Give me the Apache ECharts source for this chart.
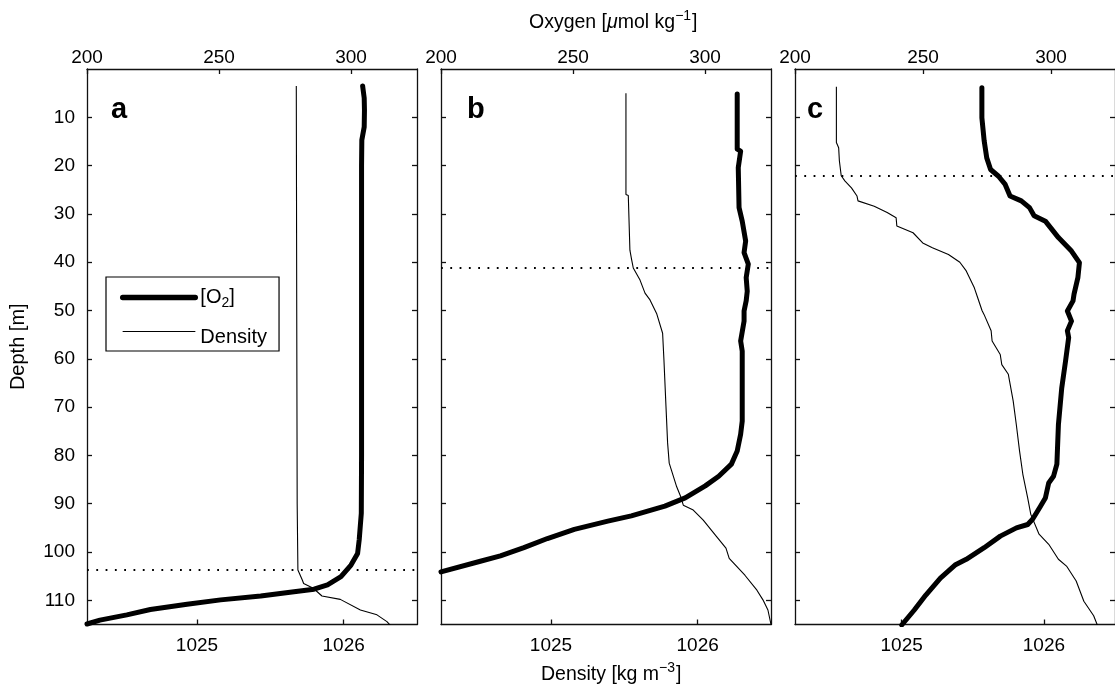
<!DOCTYPE html>
<html><head><meta charset="utf-8">
<script src="https://cdn.jsdelivr.net/npm/echarts@6/dist/echarts.min.js"></script>
<style>html,body{margin:0;padding:0;background:#fff}#c{width:1115px;height:684px}</style>
</head><body><div id="c"></div>
<script>
// ---- tick labels ----
const depthTicks = [10, 20, 30, 40, 50, 60, 70, 80, 90, 100, 110];
const oxygenTicks = [200, 250, 300];
const densityTicks = [1025, 1026];
const panelLetters = ['a', 'b', 'c'];
const mixedLayerDepth = [103.7, 41.2, 22.2];

// ---- panel a ----
const o2DepthA = [3.5, 6, 8.5, 12, 14.7, 20, 40, 60, 80, 92, 97.5, 100.3, 102.7, 105.1, 106.8, 107.7, 108.2, 109.1, 109.9, 110.8, 111.9, 113.0, 114.1, 114.9];
const o2A = [304.4, 305.0, 305.1, 305.0, 304.1, 304.0, 304.0, 304.0, 304.0, 303.9, 303.1, 302.5, 300.0, 296.2, 291.1, 286.0, 278.4, 265.8, 250.6, 237.9, 224.0, 215.1, 204.9, 200.0];
const rhoDepthA = [3.5, 50, 90, 103.7, 105.8, 106.5, 107.5, 109.1, 109.8, 112.0, 113.0, 114.4, 115.3];
const rhoA = [1025.677, 1025.680, 1025.683, 1025.688, 1025.718, 1025.727, 1025.793, 1025.852, 1025.977, 1026.114, 1026.227, 1026.295, 1026.322];

// ---- panel b ----
const o2DepthB = [5.2, 16.6, 17.0, 20.4, 28.7, 31.5, 35.6, 38.0, 40.4, 43.2, 46.0, 48.0, 50.1, 52.2, 56.3, 58.4, 72.9, 75.6, 79.1, 81.8, 84.3, 86.3, 88.8, 90.5, 91.9, 92.5, 93.6, 95.3, 97.2, 99.1, 100.8, 101.9, 104.1];
const o2B = [312.2, 312.2, 313.5, 312.6, 312.9, 314.1, 315.4, 314.8, 316.4, 315.6, 316.0, 315.6, 314.8, 314.8, 313.5, 314.1, 314.1, 313.5, 312.2, 310.0, 305.2, 300.1, 292.5, 284.8, 276.0, 272.1, 263.2, 250.5, 240.3, 231.4, 222.5, 214.9, 200.0];
const rhoDepthB = [5.0, 26.0, 26.2, 37.5, 39.5, 41.2, 43.7, 46.4, 47.8, 50.6, 54.7, 60.2, 69.9, 77.4, 81.6, 86.5, 88.5, 90.3, 91.3, 93.4, 96.8, 99.2, 101.3, 104.8, 107.9, 109.9, 112.0, 115.0];
const rhoB = [1025.511, 1025.511, 1025.527, 1025.538, 1025.550, 1025.561, 1025.607, 1025.641, 1025.675, 1025.720, 1025.761, 1025.770, 1025.784, 1025.795, 1025.806, 1025.857, 1025.884, 1025.902, 1025.970, 1026.038, 1026.129, 1026.193, 1026.215, 1026.322, 1026.404, 1026.445, 1026.479, 1026.500];

// ---- panel c ----
const o2DepthC = [3.9, 10.1, 14.9, 18.4, 20.8, 22.2, 23.9, 26.3, 27.3, 28.7, 30.4, 31.5, 34.9, 37.7, 40.1, 43.2, 46.6, 48.0, 50.1, 52.2, 54.2, 55.6, 60.4, 66.0, 73.6, 81.8, 84.3, 85.7, 88.8, 90.5, 93.2, 94.3, 95.0, 96.7, 99.1, 101.5, 102.7, 105.4, 108.9, 112.0, 115.1];
const o2C = [273.0, 273.0, 273.9, 274.9, 276.4, 279.5, 282.1, 284.0, 288.4, 291.6, 293.4, 297.8, 302.9, 308.0, 311.1, 310.5, 309.0, 308.6, 306.4, 308.0, 306.4, 306.9, 305.7, 304.2, 302.9, 302.3, 301.0, 299.1, 297.8, 295.9, 292.8, 290.9, 286.5, 280.2, 273.9, 266.9, 262.5, 256.8, 251.1, 246.6, 241.7];
const rhoDepthC = [3.7, 15.2, 16.3, 19.0, 22.1, 23.2, 24.6, 26.3, 27.3, 28.4, 29.7, 30.8, 32.5, 33.9, 36.0, 37.0, 38.4, 40.0, 41.8, 43.2, 45.3, 47.3, 50.0, 50.8, 54.2, 56.3, 59.1, 61.2, 63.2, 68.7, 73.6, 79.1, 83.9, 88.8, 92.2, 96.3, 98.4, 101.5, 102.9, 106.0, 110.2, 113.2, 115.2];
const rhoC = [1024.541, 1024.541, 1024.557, 1024.562, 1024.575, 1024.602, 1024.647, 1024.686, 1024.693, 1024.807, 1024.898, 1024.961, 1024.966, 1025.080, 1025.148, 1025.216, 1025.329, 1025.409, 1025.454, 1025.477, 1025.511, 1025.534, 1025.565, 1025.579, 1025.629, 1025.636, 1025.693, 1025.704, 1025.750, 1025.784, 1025.806, 1025.829, 1025.852, 1025.886, 1025.908, 1025.966, 1026.034, 1026.102, 1026.159, 1026.227, 1026.281, 1026.350, 1026.377];

const panelsData = [
  { o2: o2A, o2Depth: o2DepthA, rho: rhoA, rhoDepth: rhoDepthA },
  { o2: o2B, o2Depth: o2DepthB, rho: rhoB, rhoDepth: rhoDepthB },
  { o2: o2C, o2Depth: o2DepthC, rho: rhoC, rhoDepth: rhoDepthC }
];

const FONT = '"Liberation Sans", Arial, Helvetica, sans-serif';
const AX = '#111';
const TICK_FS = 19;
const gridLefts = [87, 441, 795];
const zip = (xs, ys) => xs.map((x, i) => [x, ys[i]]);

const grids = [], xAxes = [], yAxes = [], series = [];
gridLefts.forEach((l, i) => {
  grids.push({ left: l, top: 69, width: 330, height: 555.5, containLabel: false });
  const lineCfg = { show: true, onZero: false, lineStyle: { color: AX, width: 1.3 } };
  const tickStyle = { color: AX, width: 1.3 };
  // oxygen (top)
  xAxes.push({
    type: 'value', gridIndex: i, position: 'top', min: 200, max: 325,
    axisLine: lineCfg,
    axisTick: { show: true, inside: true, length: 5, customValues: oxygenTicks, lineStyle: tickStyle },
    axisLabel: { customValues: oxygenTicks, fontSize: TICK_FS, color: '#000', fontFamily: FONT, margin: 2 },
    splitLine: { show: false }
  });
  // density (bottom)
  xAxes.push({
    type: 'value', gridIndex: i, position: 'bottom', min: 1024.25, max: 1026.5,
    axisLine: lineCfg,
    axisTick: { show: true, inside: true, length: 5, customValues: densityTicks, lineStyle: tickStyle },
    axisLabel: { customValues: densityTicks, fontSize: TICK_FS, color: '#000', fontFamily: FONT, margin: 12, formatter: v => String(v) },
    splitLine: { show: false }
  });
  // depth left
  yAxes.push({
    type: 'value', gridIndex: i, position: 'left', inverse: true, min: 0, max: 115,
    name: i === 0 ? 'Depth [m]' : '', nameLocation: 'middle', nameGap: 59, nameRotate: 90,
    nameTextStyle: { fontSize: 20, color: '#000', fontFamily: FONT },
    axisLine: lineCfg,
    axisTick: { show: true, inside: true, length: 5, customValues: depthTicks, lineStyle: tickStyle },
    axisLabel: { show: i === 0, customValues: depthTicks, fontSize: TICK_FS, color: '#000', fontFamily: FONT, margin: 12 },
    splitLine: { show: false }
  });
  // depth right (ticks only)
  yAxes.push({
    type: 'value', gridIndex: i, position: 'right', inverse: true, min: 0, max: 115,
    axisLine: lineCfg,
    axisTick: { show: true, inside: true, length: 5, customValues: depthTicks, lineStyle: tickStyle },
    axisLabel: { show: false },
    splitLine: { show: false }
  });
  const p = panelsData[i];
  series.push({
    name: 'O2', type: 'line', xAxisIndex: 2 * i, yAxisIndex: 2 * i,
    data: zip(p.o2, p.o2Depth), symbol: 'none', z: 4,
    lineStyle: { color: '#000', width: 5, join: 'round', cap: 'round' }, itemStyle: { color: '#000' }
  });
  series.push({
    name: 'Density', type: 'line', xAxisIndex: 2 * i + 1, yAxisIndex: 2 * i,
    data: zip(p.rho, p.rhoDepth), symbol: 'none', z: 3,
    lineStyle: { color: '#000', width: 1.1 }, itemStyle: { color: '#000' },
    markLine: {
      silent: true, symbol: ['none', 'none'], animation: false,
      label: { show: false },
      lineStyle: { color: '#000', width: 1.8, type: [1.8, 7.5] },
      emphasis: { disabled: true },
      data: [{ yAxis: mixedLayerDepth[i] }]
    }
  });
});

const letterPos = [[111, 95], [467, 95], [807, 95]];
const titles = panelLetters.map((t, i) => ({ text: t, left: letterPos[i][0], top: letterPos[i][1], padding: 0,
  textStyle: { fontSize: 29, fontWeight: 'bold', color: '#000', fontFamily: FONT } }));

const richTitle = {
  n: { fontSize: 19.5, fontWeight: 'normal', color: '#000', fontFamily: FONT, lineHeight: 22, verticalAlign: 'top', padding: [5, 0, 0, 0] },
  i: { fontSize: 19.5, fontWeight: 'normal', color: '#000', fontFamily: FONT, fontStyle: 'italic', lineHeight: 22, verticalAlign: 'top', padding: [5, 0, 0, 0] },
  s: { fontSize: 14, fontWeight: 'normal', color: '#000', fontFamily: FONT, lineHeight: 14, verticalAlign: 'top', padding: [1, 1, 0, 0] }
};
titles.push({
  text: '{n|Oxygen [}{i|μ}{n|mol kg}{s|−1}{n|]}', left: 529, top: 8, padding: 0,
  textStyle: { fontWeight: 'normal', rich: richTitle }
});
titles.push({
  text: '{n|Density [kg m}{s|−3}{n|]}', left: 541, top: 660, padding: 0,
  textStyle: { fontWeight: 'normal', rich: richTitle }
});

const legendRich = {
  a1: { fontSize: 20, color: '#000', fontFamily: FONT, lineHeight: 20, verticalAlign: 'top', padding: [0, 0, 7, 0] },
  s1: { fontSize: 14, color: '#000', fontFamily: FONT, lineHeight: 14, verticalAlign: 'top', padding: [9, 0, 0, 0] },
  d: { fontSize: 20, color: '#000', fontFamily: FONT, lineHeight: 20, verticalAlign: 'top', padding: [6, 0, 0, 0] }
};

const chart = echarts.init(document.getElementById('c'), null, { renderer: 'canvas' });
chart.setOption({
  animation: false,
  backgroundColor: '#fff',
  title: titles,
  grid: grids,
  xAxis: xAxes,
  yAxis: yAxes,
  legend: {
    orient: 'vertical', left: 106, top: 277,
    padding: [10.5, 12, 3.5, 14], itemGap: 7, itemWidth: 72.7, itemHeight: 14,
    borderColor: '#000', borderWidth: 1.2, borderRadius: 0, backgroundColor: '#fff',
    selectedMode: false,
    itemStyle: { opacity: 0, color: 'rgba(0,0,0,0)', borderWidth: 0 },
    data: [
      { name: 'O2', lineStyle: { width: 5.3, color: '#000' } },
      { name: 'Density', lineStyle: { width: 1.1, color: '#000' } }
    ],
    formatter: n => n === 'O2' ? '{a1|[O}{s1|2}{a1|]}' : '{d|Density}',
    textStyle: { rich: legendRich }
  },
  series: series
});
</script>
</body></html>
